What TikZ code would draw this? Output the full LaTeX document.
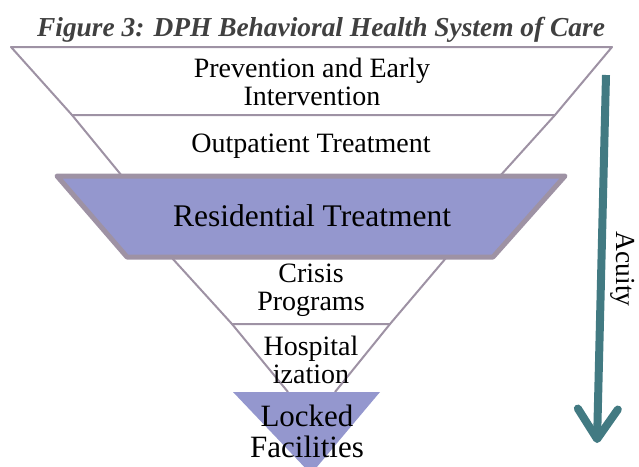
\documentclass[tikz,border=0pt]{standalone}
\usepackage{fontspec}
\setmainfont{Liberation Serif}
\usetikzlibrary{arrows.meta}
\definecolor{funnelline}{RGB}{158,146,164}
\definecolor{funnelfill}{RGB}{148,151,206}
\definecolor{acuityteal}{RGB}{66,122,130}
\definecolor{titlegray}{RGB}{64,64,64}
\tikzset{
  layer/.style={draw=funnelline, line width=2pt, line join=round},
  heavylayer/.style={draw=funnelline, fill=funnelfill, line width=5pt, line join=round},
  lbl/.style={align=center, inner sep=0pt, font=\fontsize{28}{28}\selectfont},
  biglbl/.style={lbl, font=\fontsize{31}{31}\selectfont},
}

\begin{document}
\begin{tikzpicture}[x=1pt, y=-1pt]
\clip (0,0) rectangle (639,466);
% funnel corners
\coordinate (p1) at (11,47);   \coordinate (p2) at (612,47);
\coordinate (p3) at (555,115); \coordinate (p4) at (72,115);
\coordinate (o1) at (500,176); \coordinate (o2) at (122,176);
\coordinate (r1) at (57,176);  \coordinate (r2) at (565,176);
\coordinate (r3) at (493,257); \coordinate (r4) at (127,257);
\coordinate (c1) at (172,258); \coordinate (c2) at (446,258);
\coordinate (c3) at (390,324); \coordinate (c4) at (232,324);
\coordinate (h1) at (335,392); \coordinate (h2) at (288,392);
\coordinate (l1) at (233,392); \coordinate (l2) at (380,392);
\coordinate (l3) at (311,474);
% layers, top to bottom
\draw[layer] (p1) -- (p2) -- (p3) -- (p4) -- cycle;
\draw[layer] (p4) -- (o2);
\draw[layer] (p3) -- (o1);
\draw[layer] (c1) -- (c2) -- (c3) -- (c4) -- cycle;
\draw[layer] (c4) -- (h2);
\draw[layer] (c3) -- (h1);
\draw[heavylayer] (r1) -- (r2) -- (r3) -- (r4) -- cycle;
\fill[funnelfill] (l1) -- (l2) -- (l3) -- cycle;
% labels
\node[font=\fontsize{27.4}{27.4}\selectfont\bfseries\itshape, text=titlegray, anchor=base] (title) at (321,36) {Figure 3: DPH Behavioral Health System of Care};
\node[lbl] (prev) at (312,82) {Prevention and Early\\Intervention};
\node[lbl] (outp) at (311,146) {Outpatient Treatment};
\node[lbl, font=\fontsize{31.5}{31.5}\selectfont] (resid) at (312,216) {Residential Treatment};
\node[lbl] (crisis) at (311,290) {Crisis\\Programs};
\node[lbl] (hosp) at (311,360) {Hospital\\ization};
\node[biglbl] (locked) at (307,431) {Locked\\Facilities};
% acuity arrow
\coordinate (acutop) at (606,75);
\coordinate (acutip) at (597,443);
\draw[acuityteal, line width=8pt, -{Straight Barb[length=30pt, width=40pt, round]}] (acutop) -- (acutip);
\node[rotate=-90, font=\fontsize{27.5}{27.5}\selectfont] (acuity) at (623,269) {Acuity};
\end{tikzpicture}
\end{document}
